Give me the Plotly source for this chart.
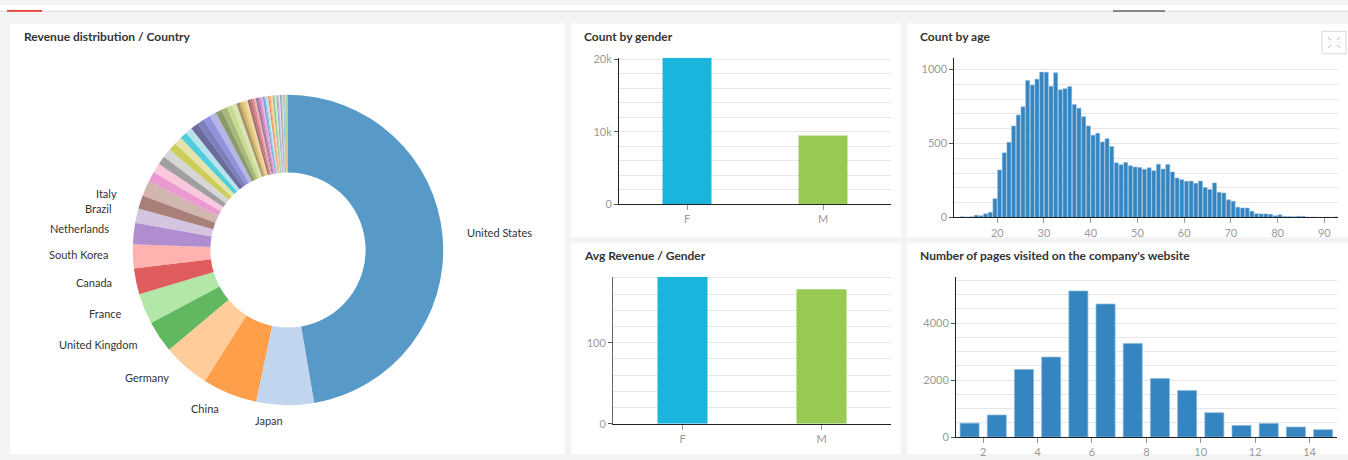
import math
import plotly.graph_objects as go

W, H = 1348, 460

# ---------------- data ----------------
countries = ["United States", "Japan", "China", "Germany", "United Kingdom", "France",
             "Canada", "South Korea", "Netherlands", "Brazil", "Italy", "Spain",
             "Australia", "India", "Mexico", "Sweden", "Switzerland", "Belgium", "Russia", "Poland",
             "Austria", "Norway", "Denmark", "Ireland",
             "Singapore", "Turkey", "Argentina", "Israel",
             "Finland", "Portugal", "New Zealand", "South Africa",
             "Greece", "Czech Republic", "Chile", "Hungary", "Thailand", "Malaysia", "Colombia", "Indonesia",
             "Romania", "Philippines", "Vietnam", "UAE", "Saudi Arabia", "Egypt", "Peru", "Ukraine",
             "Taiwan", "Hong Kong", "Nigeria", "Pakistan", "Bulgaria", "Croatia", "Slovakia", "Slovenia",
             "Lithuania", "Latvia", "Estonia", "Iceland", "Luxembourg", "Serbia", "Morocco", "Kenya",
             "Qatar", "Kuwait", "Uruguay", "Ecuador"]
revenue_share = [47.3, 6.0, 5.7, 4.9, 3.3, 3.2,
                 2.7, 2.5, 2.2, 1.5, 1.4, 1.6,
                 1.05, 1.0, 0.9, 0.95, 0.85, 0.8, 0.75, 0.7,
                 0.8, 0.75, 0.75, 0.7,
                 0.65, 0.6, 0.55, 0.5,
                 0.35, 0.3, 0.3, 0.25,
                 0.25, 0.22, 0.2, 0.2, 0.2, 0.18, 0.18, 0.17,
                 0.15, 0.14, 0.13, 0.13, 0.12, 0.12, 0.11, 0.11,
                 0.1, 0.1, 0.1, 0.1, 0.1, 0.1, 0.09, 0.09,
                 0.09, 0.08, 0.08, 0.08, 0.07, 0.07, 0.07, 0.06,
                 0.06, 0.05, 0.05, 0.05]
labelled = ["United States", "Japan", "China", "Germany", "United Kingdom", "France",
            "Canada", "South Korea", "Netherlands", "Brazil", "Italy"]

genders = ["F", "M"]
gender_count = [20250, 9500]
gender_avg_revenue = [181.6, 165.9]

ages = list(range(12, 93))
age_count = [5, 3, 5, 15, 12, 25, 35, 127,
             321, 437, 508, 618, 692, 747, 925, 894, 934, 982,
             980, 886, 978, 862, 870, 884, 763, 738, 681, 618,
             556, 569, 510, 532, 479, 369, 356, 371, 349, 341,
             338, 325, 336, 316, 360, 327, 358, 308, 266, 255,
             244, 246, 231, 246, 202, 189, 233, 171, 165, 119,
             110, 70, 64, 64, 42, 26, 24, 24, 22, 11,
             18, 7, 6, 5, 8, 8, 3, 3, 2, 1,
             2, 1, 4]

pages = list(range(1, 15))
pages_count = [491, 777, 2377, 2811, 5131, 4674, 3291, 2057, 1634, 857, 411, 480, 354, 263]

# ---------------- style ----------------
cat20 = ["#1f77b4", "#aec7e8", "#ff7f0e", "#ffbb78", "#2ca02c", "#98df8a", "#d62728", "#ff9896",
         "#9467bd", "#c5b0d5", "#8c564b", "#c49c94", "#e377c2", "#f7b6d2", "#7f7f7f", "#c7c7c7",
         "#bcbd22", "#dbdb8d", "#17becf", "#9edae5"]
cat20b = ["#393b79", "#5254a3", "#6b6ecf", "#9c9ede", "#637939", "#8ca252", "#b5cf6b", "#cedb9c",
          "#8c6d31", "#bd9e39", "#e7ba52", "#e7cb94", "#843c39", "#ad494a", "#d6616b", "#e7969c",
          "#7b4173", "#a55194", "#ce6dbd", "#de9ed6"]
cat20c = ["#3182bd", "#6baed6", "#9ecae1", "#c6dbef", "#e6550d", "#fd8d3c", "#fdae6b", "#fdd0a2",
          "#31a354", "#74c476", "#a1d99b", "#c7e9c0", "#756bb1", "#9e9ac8", "#bcbddc", "#dadaeb",
          "#636363", "#969696", "#bdbdbd", "#d9d9d9"]
palette = cat20 + cat20b + cat20c + cat20


def rgba(hexc, a=0.75):
    h = hexc.lstrip("#")
    r, g, b = int(h[0:2], 16), int(h[2:4], 16), int(h[4:6], 16)
    return f"rgba({r},{g},{b},{a})"


pie_colors = [rgba(palette[i % len(palette)]) for i in range(len(countries))]

FONT = "Lato"
GRID = "#e6e6e6"
TICKFONT = dict(family=FONT, size=11, color="#9a9a9a")


def px_x(x):
    return x / W


def px_y(y):
    return 1 - y / H


# pie geometry (pixels)
PCX, PCY, PR = 288, 251, 159
LABEL_R = 178

fig = go.Figure()

fig.add_trace(go.Pie(
    labels=countries, values=revenue_share,
    textinfo="none", sort=False,
    direction="clockwise", rotation=0, hole=0.5,
    marker=dict(colors=pie_colors, line=dict(width=0)),
    domain=dict(x=[px_x(PCX - PR), px_x(PCX + PR)], y=[px_y(PCY + PR), px_y(PCY - PR)]),
    showlegend=False, hoverinfo="label+percent",
))

gcolors = ["#1ab4dc", "#97c953"]
fig.add_trace(go.Bar(x=genders, y=gender_count, width=0.36,
                     marker=dict(color=gcolors, line=dict(width=0)),
                     xaxis="x", yaxis="y", showlegend=False))
fig.add_trace(go.Bar(x=genders, y=gender_avg_revenue, width=0.36,
                     marker=dict(color=gcolors, line=dict(width=0)),
                     xaxis="x2", yaxis="y2", showlegend=False))
fig.add_trace(go.Bar(x=[a + 0.5 for a in ages], y=age_count, width=0.86,
                     marker=dict(color="#3585c0", line=dict(width=0.6, color="rgba(140,185,220,0.9)")),
                     xaxis="x3", yaxis="y3", showlegend=False))
fig.add_trace(go.Bar(x=[p + 0.5 for p in pages], y=pages_count, width=0.7,
                     marker=dict(color="#3585c0", line=dict(width=0.8, color="rgba(140,185,220,0.9)")),
                     xaxis="x4", yaxis="y4", showlegend=False))


def xax(x0, x1, **kw):
    d = dict(domain=[px_x(x0), px_x(x1)], showgrid=False, zeroline=False,
             showline=True, linecolor="#222", linewidth=1, ticks="outside", ticklen=5,
             tickcolor="#999", tickfont=TICKFONT, fixedrange=True)
    d.update(kw)
    return d


def yax(y0, y1, tickvals, ticktext, rng, minor_dtick, anchor, linecolor="#222"):
    return dict(domain=[px_y(y1), px_y(y0)], range=rng, tickmode="array", anchor=anchor,
                tickvals=tickvals, ticktext=ticktext, showgrid=True, gridcolor=GRID, gridwidth=1,
                minor=dict(tickmode="linear", tick0=0, dtick=minor_dtick, showgrid=True,
                           gridcolor=GRID, gridwidth=1),
                zeroline=False, showline=True, linecolor=linecolor, linewidth=1,
                ticks="outside", ticklen=4, tickcolor="#555", tickfont=TICKFONT, fixedrange=True)


fig.update_layout(
    xaxis=xax(619, 891, type="category", range=[-0.5, 1.5], anchor="y"),
    yaxis=yax(54, 204, [0, 10000, 20000], ["0", "10k", "20k"], [0, 20250], 2000, "x"),
    xaxis2=xax(613, 891, type="category", range=[-0.5, 1.5], anchor="y2"),
    yaxis2=yax(278.3, 429, [0, 100], ["0", "100"], [0, 181.6], 20, "x2", linecolor="#666"),
    xaxis3=xax(954.3, 1338.3, range=[10.8, 93], tickmode="array",
               tickvals=[20, 30, 40, 50, 60, 70, 80, 90], anchor="y3"),
    yaxis3=yax(54, 217.7, [0, 500, 1000], ["0", "500", "1000"], [0, 1079], 100, "x3"),
    xaxis4=xax(956, 1336.7, range=[1, 15], tickmode="array",
               tickvals=[2, 4, 6, 8, 10, 12, 14], anchor="y4"),
    yaxis4=yax(279, 442.7, [0, 2000, 4000], ["0", "2000", "4000"], [0, 5611], 500, "x4"),
)

shapes = []


def rect(x0, y0, x1, y1, fill="white", line=None, layer="below"):
    shapes.append(dict(type="rect", xref="paper", yref="paper",
                       x0=px_x(x0), x1=px_x(x1), y0=px_y(y1), y1=px_y(y0),
                       fillcolor=fill, line=line or dict(width=0), layer=layer))


# top strip
rect(0, 0, W, 6, fill="white")
rect(0, 6, W, 7, fill="#dcdcdc")
rect(7, 5, 42, 7, fill="#e8402f")
rect(1113, 5.5, 1165, 7, fill="#666")
# panels
rect(10, 19, 565, 460)
rect(571, 19, 901, 238)
rect(907, 19, 1348, 238)
rect(571, 244, 901, 460)
rect(907, 244, 1348, 460)
# expand icon
rect(1322, 27, 1346, 50, fill="white", line=dict(color="#d8d8d8", width=1), layer="above")
for (ax0, ay0, ax1, ay1) in [(1328, 33, 1331, 36), (1340, 33, 1337, 36), (1328, 44, 1331, 41), (1340, 44, 1337, 41)]:
    shapes.append(dict(type="line", xref="paper", yref="paper", x0=px_x(ax0), y0=px_y(ay0),
                       x1=px_x(ax1), y1=px_y(ay1), line=dict(color="#bbbbbb", width=1)))

titles = [("Revenue distribution / Country", 22, 32),
          ("Count by gender", 582, 32),
          ("Count by age", 918, 32),
          ("Avg Revenue / Gender", 582, 257),
          ("Number of pages visited on the company's website", 918, 257)]
annotations = [dict(text=f"<b>{t}</b>", x=px_x(x), y=px_y(y), xref="paper", yref="paper",
                    xanchor="left", yanchor="middle", showarrow=False,
                    font=dict(family=FONT, size=12, color="#333")) for t, x, y in titles]

# outside pie labels, placed at the slice mid-angle derived from the data
total = sum(revenue_share)
cum = 0.0
for name, v in zip(countries, revenue_share):
    mid = 2 * math.pi * (cum + v / 2) / total
    cum += v
    if name not in labelled:
        continue
    lx = PCX + LABEL_R * math.sin(mid)
    ly = PCY - LABEL_R * math.cos(mid) - 3
    annotations.append(dict(text=name, x=px_x(lx), y=px_y(ly), xref="paper", yref="paper",
                            xanchor="left" if math.sin(mid) >= 0 else "right", yanchor="middle",
                            showarrow=False, font=dict(family=FONT, size=11, color="#333")))

fig.update_layout(
    width=W, height=H, margin=dict(l=0, r=0, t=0, b=0, pad=0),
    paper_bgcolor="#f3f3f3", plot_bgcolor="rgba(0,0,0,0)",
    shapes=shapes, annotations=annotations,
    font=dict(family=FONT, size=11, color="#333"),
    showlegend=False,
)

fig.write_html("out.html", config={"displayModeBar": False},
               post_script="document.body.style.margin='0';")
